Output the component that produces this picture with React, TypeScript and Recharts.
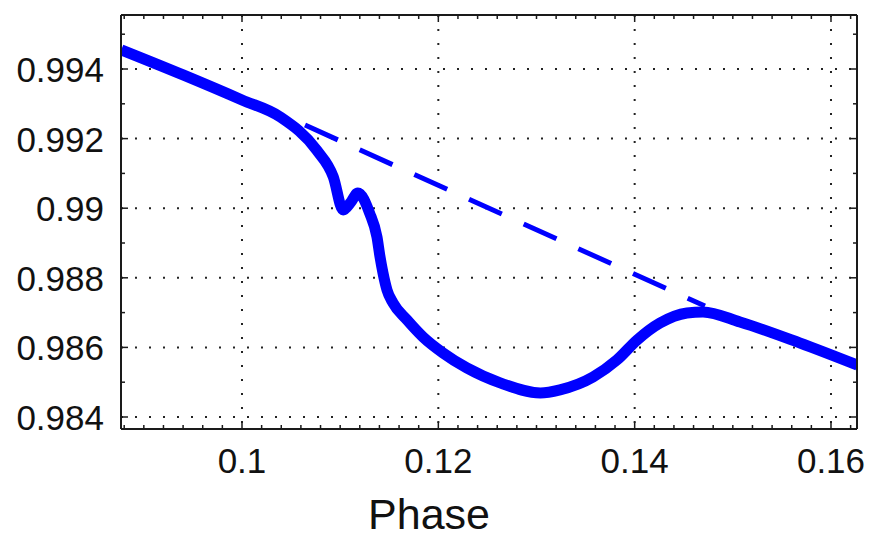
import React from "react";
import { LineChart, Line, XAxis, YAxis, CartesianGrid } from "recharts";

const FONT = '"Liberation Sans", Arial, Helvetica, sans-serif';

// Solid curve (light curve with transit dip)
const solidPhase = [
  0.0877, 0.094, 0.1, 0.1039, 0.1076, 0.1093, 0.1103, 0.1111, 0.1118, 0.113,
  0.11375, 0.11406, 0.11436, 0.11477, 0.11538, 0.11681, 0.11844, 0.12048,
  0.1229, 0.1263, 0.1304, 0.13239, 0.13576, 0.1382, 0.14024, 0.14258, 0.14533,
  0.14696, 0.15073, 0.1568, 0.1627,
];
const solidFlux = [
  0.99455, 0.99383, 0.99311, 0.99262, 0.99167, 0.9909, 0.98995, 0.99018,
  0.99044, 0.98986, 0.98917, 0.9886, 0.98814, 0.98765, 0.98728, 0.98679,
  0.9863, 0.98584, 0.98541, 0.98498, 0.98469, 0.98478, 0.98515, 0.98564,
  0.98621, 0.9867, 0.98699, 0.98702, 0.98673, 0.98613, 0.98549,
];

// Dashed curve (unperturbed baseline)
const dashedPhase = [0.10642, 0.14716];
const dashedFlux = [0.99239, 0.98719];

// Ticks
const xMajorTicks = [0.1, 0.12, 0.14, 0.16];
const xMinorTicks = [
  0.088, 0.09, 0.092, 0.094, 0.096, 0.098, 0.102, 0.104, 0.106, 0.108, 0.11,
  0.112, 0.114, 0.116, 0.118, 0.122, 0.124, 0.126, 0.128, 0.13, 0.132, 0.134,
  0.136, 0.138, 0.142, 0.144, 0.146, 0.148, 0.15, 0.152, 0.154, 0.156, 0.158,
  0.162,
];
const yMajorTicks = [0.984, 0.986, 0.988, 0.99, 0.992, 0.994];
const yMinorTicks = [0.985, 0.987, 0.989, 0.991, 0.993, 0.995];

const xDomain: [number, number] = [0.087674, 0.162649];
const yDomain: [number, number] = [0.983655, 0.995552];

const solidData = solidPhase.map((p, i) => ({ phase: p, flux: solidFlux[i] }));
const dashedData = dashedPhase.map((p, i) => ({ phase: p, flux: dashedFlux[i] }));
const xAllTicks = [...xMajorTicks, ...xMinorTicks].sort((a, b) => a - b);
const yAllTicks = [...yMajorTicks, ...yMinorTicks].sort((a, b) => a - b);

const isMajor = (v: number, arr: number[]) => arr.some((m) => Math.abs(m - v) < 1e-7);
const fmt = (v: number) => String(Number(v.toFixed(3)));

const TICK_COLOR = "#1a1a1a";
const MAJ = 7;
const MIN = 4;

const BottomTick = (props: any) => {
  const { x, y, payload } = props;
  const major = isMajor(payload.value, xMajorTicks);
  return (
    <g>
      <line x1={x} y1={y} x2={x} y2={y - (major ? MAJ : MIN)} stroke={TICK_COLOR} strokeWidth={1.5} />
      {major && (
        <text x={x} y={y + 44} textAnchor="middle" fontSize={35} fill="#111" fontFamily={FONT}>
          {fmt(payload.value)}
        </text>
      )}
    </g>
  );
};

const TopTick = (props: any) => {
  const { x, y, payload } = props;
  const major = isMajor(payload.value, xMajorTicks);
  return <line x1={x} y1={y} x2={x} y2={y + (major ? MAJ : MIN)} stroke={TICK_COLOR} strokeWidth={1.5} />;
};

const LeftTick = (props: any) => {
  const { x, y, payload } = props;
  const major = isMajor(payload.value, yMajorTicks);
  return (
    <g>
      <line x1={x} y1={y} x2={x + (major ? MAJ : MIN)} y2={y} stroke={TICK_COLOR} strokeWidth={1.5} />
      {major && (
        <text x={x - 17} y={y + 13} textAnchor="end" fontSize={35} fill="#111" fontFamily={FONT}>
          {fmt(payload.value)}
        </text>
      )}
    </g>
  );
};

const RightTick = (props: any) => {
  const { x, y, payload } = props;
  const major = isMajor(payload.value, yMajorTicks);
  return <line x1={x} y1={y} x2={x - (major ? MAJ : MIN)} y2={y} stroke={TICK_COLOR} strokeWidth={1.5} />;
};

const PhaseLabel = (props: any) => {
  const vb = props.viewBox || { x: 121, y: 429 };
  return (
    <text x={vb.x + 308} y={vb.y + 100} textAnchor="middle" fontSize={43} fill="#111" fontFamily={FONT}>
      Phase
    </text>
  );
};

export default function App() {
  return (
    <div style={{ position: "absolute", left: 0, top: 0, width: 869, height: 538, background: "#fff" }}>
      <LineChart width={869} height={538} margin={{ top: 0, right: 0, bottom: 0, left: 0 }} style={{ fontFamily: FONT }}>
        <CartesianGrid
          stroke="#222"
          strokeWidth={2}
          strokeDasharray="2 12"
          horizontalValues={yMajorTicks}
          verticalValues={xMajorTicks}
        />
        <XAxis
          xAxisId={0}
          type="number"
          dataKey="phase"
          domain={xDomain}
          allowDataOverflow
          ticks={xAllTicks}
          interval={0}
          tickSize={0}
          tickMargin={0}
          tick={<BottomTick />}
          tickLine={false}
          axisLine={{ stroke: TICK_COLOR, strokeWidth: 2 }}
          height={109}
          label={<PhaseLabel />}
        />
        <XAxis
          xAxisId="top"
          orientation="top"
          type="number"
          dataKey="phase"
          domain={xDomain}
          allowDataOverflow
          ticks={xAllTicks}
          interval={0}
          tickSize={0}
          tickMargin={0}
          tick={<TopTick />}
          tickLine={false}
          axisLine={{ stroke: TICK_COLOR, strokeWidth: 2 }}
          height={15}
        />
        <YAxis
          yAxisId={0}
          type="number"
          domain={yDomain}
          allowDataOverflow
          ticks={yAllTicks}
          interval={0}
          tickSize={0}
          tickMargin={0}
          tick={<LeftTick />}
          tickLine={false}
          axisLine={{ stroke: TICK_COLOR, strokeWidth: 2 }}
          width={121}
        />
        <YAxis
          yAxisId="right"
          orientation="right"
          type="number"
          domain={yDomain}
          allowDataOverflow
          ticks={yAllTicks}
          interval={0}
          tickSize={0}
          tickMargin={0}
          tick={<RightTick />}
          tickLine={false}
          axisLine={{ stroke: TICK_COLOR, strokeWidth: 2 }}
          width={12}
        />
        <Line
          data={dashedData}
          dataKey="flux"
          type="linear"
          stroke="#0000ff"
          strokeWidth={5}
          strokeDasharray="36 24"
          dot={false}
          activeDot={false}
          isAnimationActive={false}
        />
        <Line
          data={solidData}
          dataKey="flux"
          type="monotone"
          stroke="#0000ff"
          strokeWidth={11}
          strokeLinejoin="round"
          dot={false}
          activeDot={false}
          isAnimationActive={false}
        />
      </LineChart>
    </div>
  );
}
